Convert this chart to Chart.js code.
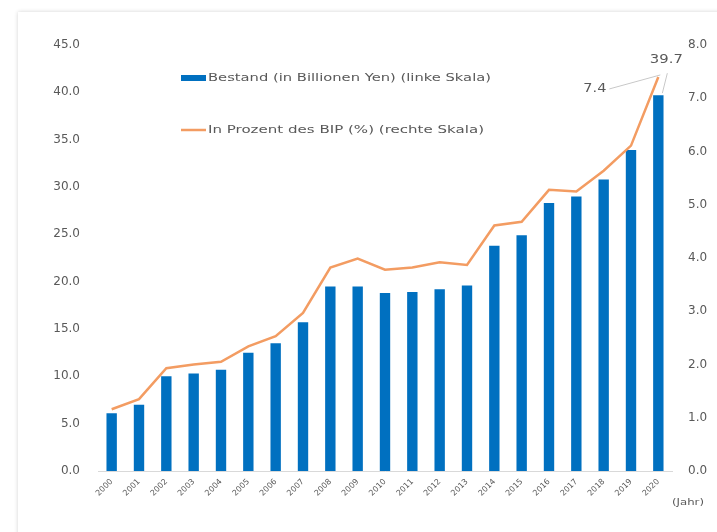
<!DOCTYPE html>
<html>
<head>
<meta charset="utf-8">
<script src="https://cdn.jsdelivr.net/npm/chart.js@4"></script>
<style>
  html, body { margin:0; padding:0; background:#ffffff; width:717px; height:532px; overflow:hidden; }
  #card { position:absolute; left:18px; top:12px; width:720px; height:540px; background:#fff;
          box-shadow: 0 0 4px rgba(0,0,0,0.18); }
  #wrap { position:absolute; left:0; top:0; width:717px; height:532px; }
</style>
</head>
<body>
<div id="card"></div>
<div id="wrap"><canvas id="c" width="717" height="532"></canvas></div>
<script>
const years = ['2000','2001','2002','2003','2004','2005','2006','2007','2008','2009','2010','2011','2012','2013','2014','2015','2016','2017','2018','2019','2020'];
const bestand = [6.1, 7.0, 10.0, 10.3, 10.7, 12.5, 13.5, 15.7, 19.5, 19.5, 18.8, 18.9, 19.2, 19.6, 23.8, 24.9, 28.3, 29.0, 30.8, 33.9, 39.7];
const prozent = [1.16, 1.35, 1.93, 2.0, 2.05, 2.34, 2.53, 2.97, 3.82, 3.99, 3.78, 3.82, 3.92, 3.87, 4.61, 4.68, 5.28, 5.25, 5.64, 6.11, 7.4];
const labelBestand = 'Bestand (in Billionen Yen) (linke Skala)';
const labelProzent = 'In Prozent des BIP (%) (rechte Skala)';
const xUnit = '(Jahr)';

const BLUE = '#0070C0';
const ORANGE = '#F39C62';
const TXT = '#595959';
const FONT = 'DejaVu Sans';

function fitText(ctx, text, x, y, align, targetW) {
  const w0 = ctx.measureText(text).width;
  const sx = targetW / w0;
  let left = x;
  if (align === 'center') left = x - targetW / 2;
  else if (align === 'right') left = x - targetW;
  ctx.save();
  ctx.textAlign = 'left';
  ctx.translate(left, y);
  ctx.scale(sx, 1);
  ctx.fillText(text, 0, 0);
  ctx.restore();
}

const extras = {
  id: 'extras',
  afterDraw(chart) {
    const ctx = chart.ctx;
    ctx.save();
    ctx.textBaseline = 'middle';
    // Legend
    ctx.font = '11px "' + FONT + '"';
    ctx.fillStyle = BLUE;
    ctx.fillRect(181, 75, 25, 6);
    ctx.fillStyle = TXT;
    fitText(ctx, labelBestand, 208, 78, 'left', 283);
    ctx.strokeStyle = ORANGE;
    ctx.lineWidth = 2.5;
    ctx.beginPath(); ctx.moveTo(181, 130); ctx.lineTo(206, 130); ctx.stroke();
    fitText(ctx, labelProzent, 208, 130, 'left', 276);

    // (Jahr)
    ctx.font = '9px "' + FONT + '"';
    fitText(ctx, xUnit, 672, 503, 'left', 32);

    // Annotations
    const last = years.length - 1;
    const bar = chart.getDatasetMeta(0).data[last];
    const pt = chart.getDatasetMeta(1).data[last];
    ctx.strokeStyle = '#c8c8c8';
    ctx.lineWidth = 1;
    ctx.beginPath(); ctx.moveTo(bar.x + 9, bar.y - 22); ctx.lineTo(bar.x + 4, bar.y - 2); ctx.stroke();
    ctx.beginPath(); ctx.moveTo(pt.x - 49, pt.y + 12); ctx.lineTo(pt.x + 2, pt.y - 2); ctx.stroke();
    ctx.font = '12px "' + FONT + '"';
    ctx.fillStyle = TXT;
    fitText(ctx, bestand[last].toFixed(1), bar.x + 8, bar.y - 35, 'center', 33);
    fitText(ctx, prozent[last].toFixed(1), pt.x - 52, pt.y + 12, 'right', 23);
    ctx.restore();
  }
};

new Chart(document.getElementById('c'), {
  data: {
    labels: years,
    datasets: [
      { type: 'bar', label: labelBestand, data: bestand, backgroundColor: BLUE, yAxisID: 'y',
        barPercentage: 0.38, categoryPercentage: 1.0, order: 2 },
      { type: 'line', label: labelProzent, data: prozent, borderColor: ORANGE, borderWidth: 2.5,
        pointRadius: 0, tension: 0, yAxisID: 'y1', order: 1 }
    ]
  },
  options: {
    responsive: false,
    animation: false,
    layout: { padding: { top: 45, left: 0, right: 0, bottom: 0 } },
    plugins: { legend: { display: false }, tooltip: { enabled: false } },
    scales: {
      x: {
        offset: true,
        grid: { display: false, drawTicks: false },
        border: { display: true, color: '#d9d9d9', width: 1 },
        ticks: { color: TXT, font: { family: FONT, size: 8 }, minRotation: 45, maxRotation: 45, padding: 6, autoSkip: false },
        afterFit(s) { s.height = 61; }
      },
      y: {
        position: 'left', min: 0, max: 45,
        grid: { display: false, drawTicks: false },
        border: { display: false },
        ticks: { stepSize: 5, color: TXT, font: { family: FONT, size: 12 }, padding: 18,
                 callback: v => Number(v).toFixed(1) },
        afterFit(s) { s.width = 98; }
      },
      y1: {
        position: 'right', min: 0, max: 8,
        grid: { display: false, drawTicks: false },
        border: { display: false },
        ticks: { stepSize: 1, color: TXT, font: { family: FONT, size: 12 }, padding: 16,
                 callback: v => Number(v).toFixed(1) },
        afterFit(s) { s.width = 45; }
      }
    }
  },
  plugins: [extras]
});
</script>
</body>
</html>
